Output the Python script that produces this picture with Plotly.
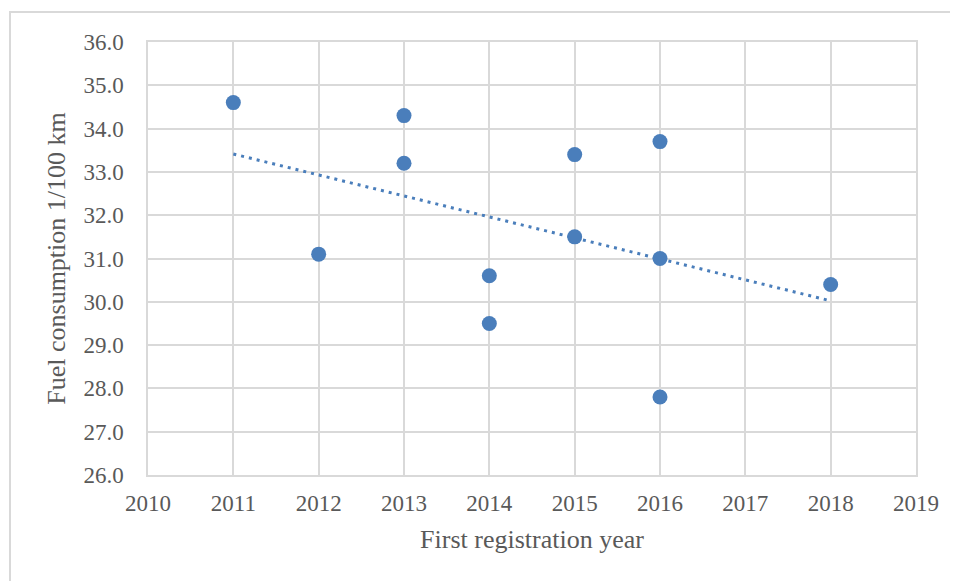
import numpy as np
import plotly.graph_objects as go

# First registration year vs fuel consumption
years = [2011, 2012, 2013, 2013, 2014, 2014, 2015, 2015, 2016, 2016, 2016, 2018]
consumption = [34.6, 31.1, 34.3, 33.2, 30.6, 29.5, 33.4, 31.5, 33.7, 31.0, 27.8, 30.4]

x_ticks = list(range(2010, 2020))
y_ticks = [26 + i for i in range(11)]

_BLUE = "#4A7EBB"
_GRID = "#D9D9D9"
_INK = "#595959"
_FONT = "Liberation Serif, Times New Roman, serif"

# linear trendline (Excel-style), fitted from the data above
slope, intercept = np.polyfit(years, consumption, 1)
trend_x = [min(years), max(years)]
trend_y = [slope * x + intercept for x in trend_x]

fig = go.Figure()
fig.add_trace(
    go.Scatter(
        x=trend_x,
        y=trend_y,
        mode="lines",
        line=dict(color=_BLUE, width=3, dash="3px,5px"),
        hoverinfo="skip",
    )
)
fig.add_trace(
    go.Scatter(
        x=years,
        y=consumption,
        mode="markers",
        marker=dict(color=_BLUE, size=15),
    )
)

# chart-area border (runs off the right and bottom edge like the source)
fig.add_shape(
    type="rect",
    xref="paper",
    yref="paper",
    x0=-0.1797,
    x1=1.08,
    y0=-0.30,
    y1=1.0693,
    line=dict(color=_GRID, width=2),
    fillcolor="rgba(0,0,0,0)",
)

# the page adds an 8px body margin, so the figure is 8px smaller and shifted
fig.update_layout(
    width=950,
    height=573,
    margin=dict(l=140, r=42, t=34, b=106),
    plot_bgcolor="white",
    paper_bgcolor="white",
    font=dict(family=_FONT, color=_INK, size=23),
    showlegend=False,
    xaxis=dict(
        range=[2010, 2019],
        tickvals=x_ticks,
        ticktext=[str(v) for v in x_ticks],
        showgrid=True,
        gridcolor=_GRID,
        gridwidth=1.5,
        showline=True,
        linecolor=_GRID,
        linewidth=1.5,
        mirror=True,
        zeroline=False,
        ticks="",
        ticklabelstandoff=7,
        title=dict(text="First registration year", font=dict(size=26, color=_INK), standoff=14),
    ),
    yaxis=dict(
        range=[26, 36],
        tickvals=y_ticks,
        ticktext=[f"{v:.1f}" for v in y_ticks],
        showgrid=True,
        gridcolor=_GRID,
        gridwidth=1.5,
        showline=True,
        linecolor=_GRID,
        linewidth=1.5,
        mirror=True,
        zeroline=False,
        ticks="",
        ticklabelstandoff=18,
        title=dict(text="Fuel consumption 1/100 km", font=dict(size=26, color=_INK), standoff=10),
    ),
)

fig.write_html("out.html")
